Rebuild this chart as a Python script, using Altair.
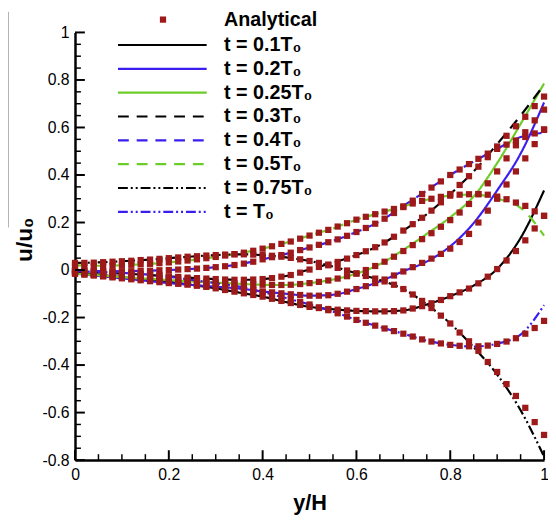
import altair as alt
import pandas as pd

# ---------------- data ----------------
series = ["t = 0.1T₀", "t = 0.2T₀", "t = 0.25T₀", "t = 0.3T₀",
          "t = 0.4T₀", "t = 0.5T₀", "t = 0.75T₀", "t = T₀"]

x_line = [round(0.05 * i, 2) for i in range(21)]
x_an = [round(0.02 * i, 2) for i in range(51)]

# numerical solutions (lines), sampled every 0.05 in y/H
line_01 = [-0.010, -0.020, -0.030, -0.040, -0.050, -0.063, -0.077, -0.095, -0.112, -0.135, -0.155,
           -0.165, -0.172, -0.174, -0.170, -0.145, -0.110, -0.065, 0.005, 0.135, 0.335]
line_02 = [-0.015, -0.025, -0.035, -0.045, -0.055, -0.063, -0.070, -0.078, -0.090, -0.100, -0.108,
           -0.104, -0.080, -0.048, -0.005, 0.036, 0.100, 0.198, 0.335, 0.490, 0.705]
line_025 = [-0.015, -0.022, -0.030, -0.036, -0.042, -0.048, -0.053, -0.058, -0.062, -0.063, -0.055,
            -0.040, -0.015, 0.025, 0.085, 0.152, 0.222, 0.310, 0.450, 0.615, 0.785]
line_03 = [-0.005, -0.010, -0.015, -0.020, -0.027, -0.033, -0.038, -0.041, -0.038, -0.025, 0.003,
           0.030, 0.063, 0.105, 0.166, 0.235, 0.320, 0.415, 0.530, 0.650, 0.780]
line_04 = [0.000, -0.004, -0.005, -0.003, 0.000, 0.005, 0.012, 0.024, 0.045, 0.068, 0.095,
           0.123, 0.160, 0.205, 0.270, 0.335, 0.400, 0.457, 0.510, 0.560, 0.578]
line_05 = [0.020, 0.018, 0.020, 0.025, 0.032, 0.042, 0.055, 0.070, 0.090, 0.115, 0.145,
           0.175, 0.212, 0.240, 0.268, 0.296, 0.313, 0.318, 0.300, 0.262, 0.145]
line_075 = [0.030, 0.032, 0.037, 0.043, 0.050, 0.057, 0.063, 0.066, 0.063, 0.053, 0.038,
            0.015, -0.014, -0.042, -0.080, -0.145, -0.225, -0.325, -0.440, -0.590, -0.785]
line_1 = [-0.005, -0.008, -0.012, -0.018, -0.028, -0.042, -0.055, -0.070, -0.093, -0.118, -0.145,
          -0.175, -0.210, -0.240, -0.268, -0.297, -0.315, -0.322, -0.310, -0.272, -0.148]

# analytical solutions (squares), sampled every 0.02 in y/H
an_01 = [-0.010, -0.014, -0.018, -0.022, -0.026, -0.030, -0.034, -0.038, -0.042, -0.046,
         -0.050, -0.055, -0.060, -0.066, -0.071, -0.077, -0.084, -0.091, -0.098, -0.105,
         -0.112, -0.121, -0.130, -0.139, -0.147, -0.155, -0.160, -0.164, -0.167, -0.170,
         -0.172, -0.173, -0.174, -0.174, -0.173, -0.170, -0.162, -0.152, -0.140, -0.126,
         -0.110, -0.094, -0.078, -0.056, -0.028, 0.004, 0.040, 0.080, 0.125, 0.175, 0.228]
an_02 = [-0.015, -0.019, -0.023, -0.027, -0.031, -0.035, -0.039, -0.043, -0.047, -0.051,
         -0.055, -0.058, -0.061, -0.064, -0.067, -0.070, -0.073, -0.076, -0.080, -0.085,
         -0.090, -0.094, -0.098, -0.102, -0.105, -0.108, -0.108, -0.106, -0.100, -0.091,
         -0.080, -0.068, -0.055, -0.040, -0.023, -0.006, 0.012, 0.030, 0.048, 0.068,
         0.090, 0.118, 0.152, 0.200, 0.250, 0.300, 0.360, 0.415, 0.470, 0.530, 0.592]
an_025 = [-0.015, -0.018, -0.021, -0.024, -0.027, -0.030, -0.032, -0.035, -0.037, -0.040,
          -0.042, -0.044, -0.047, -0.049, -0.051, -0.053, -0.055, -0.057, -0.059, -0.061,
          -0.062, -0.063, -0.063, -0.062, -0.059, -0.055, -0.050, -0.044, -0.036, -0.026,
          -0.015, 0.000, 0.017, 0.035, 0.056, 0.080, 0.105, 0.130, 0.155, 0.182,
          0.210, 0.242, 0.278, 0.320, 0.365, 0.415, 0.470, 0.525, 0.580, 0.630, 0.675]
an_03 = [-0.005, -0.007, -0.009, -0.011, -0.013, -0.015, -0.017, -0.019, -0.022, -0.024,
         -0.027, -0.029, -0.032, -0.034, -0.036, -0.038, -0.040, -0.041, -0.041, -0.040,
         -0.038, -0.034, -0.028, -0.021, -0.011, 0.002, 0.013, 0.023, 0.034, 0.048,
         0.063, 0.079, 0.096, 0.116, 0.140, 0.166, 0.193, 0.220, 0.250, 0.285,
         0.320, 0.358, 0.395, 0.435, 0.475, 0.520, 0.565, 0.605, 0.645, 0.690, 0.730]
an_04 = [0.000, -0.002, -0.003, -0.004, -0.005, -0.005, -0.005, -0.004, -0.003, -0.001,
         0.000, 0.002, 0.004, 0.006, 0.009, 0.012, 0.016, 0.021, 0.027, 0.035,
         0.045, 0.054, 0.063, 0.073, 0.084, 0.095, 0.106, 0.117, 0.129, 0.144,
         0.160, 0.177, 0.195, 0.216, 0.240, 0.265, 0.292, 0.320, 0.347, 0.373,
         0.400, 0.423, 0.446, 0.468, 0.490, 0.510, 0.528, 0.545, 0.560, 0.575, 0.590]
an_05 = [0.020, 0.019, 0.018, 0.018, 0.019, 0.020, 0.022, 0.024, 0.026, 0.029,
         0.032, 0.036, 0.040, 0.045, 0.050, 0.055, 0.061, 0.067, 0.073, 0.081,
         0.090, 0.100, 0.110, 0.120, 0.132, 0.145, 0.157, 0.169, 0.183, 0.197,
         0.212, 0.224, 0.235, 0.246, 0.257, 0.268, 0.280, 0.291, 0.300, 0.308,
         0.313, 0.317, 0.319, 0.319, 0.317, 0.309, 0.298, 0.284, 0.270, 0.247, 0.228]
an_075 = [0.030, 0.030, 0.031, 0.033, 0.035, 0.037, 0.039, 0.042, 0.044, 0.047,
          0.050, 0.053, 0.056, 0.058, 0.061, 0.063, 0.065, 0.066, 0.066, 0.065,
          0.063, 0.060, 0.056, 0.051, 0.045, 0.038, 0.030, 0.020, 0.009, -0.002,
          -0.014, -0.025, -0.036, -0.048, -0.062, -0.080, -0.103, -0.130, -0.160, -0.192,
          -0.225, -0.263, -0.300, -0.340, -0.387, -0.429, -0.480, -0.530, -0.580, -0.640, -0.694]
an_1 = [-0.005, -0.006, -0.007, -0.009, -0.010, -0.012, -0.014, -0.016, -0.019, -0.023,
        -0.028, -0.033, -0.039, -0.044, -0.050, -0.055, -0.061, -0.067, -0.074, -0.083,
        -0.093, -0.103, -0.113, -0.123, -0.134, -0.145, -0.157, -0.169, -0.182, -0.196,
        -0.210, -0.222, -0.234, -0.246, -0.257, -0.268, -0.280, -0.292, -0.301, -0.309,
        -0.315, -0.319, -0.321, -0.321, -0.318, -0.311, -0.301, -0.287, -0.268, -0.244, -0.214]

lines = [line_01, line_02, line_025, line_03, line_04, line_05, line_075, line_1]
analytic = [an_01, an_02, an_025, an_03, an_04, an_05, an_075, an_1]

x_major = [0, 0.2, 0.4, 0.6, 0.8, 1.0]
y_major = [-0.8, -0.6, -0.4, -0.2, 0, 0.2, 0.4, 0.6, 0.8, 1.0]
x_minor = [round(0.05 * i, 2) for i in range(21) if i % 4 != 0]
y_minor = [round(-0.8 + 0.05 * i, 2) for i in range(37) if i % 4 != 0]

legend_labels = ["Analytical"] + series

# ---------------- styles ----------------
BLACK = "#000000"
BLUE = "#3a1ef0"
GREEN = "#6ccc28"
RED = "#9e1a1a"
colors = [BLACK, BLUE, GREEN, BLACK, BLUE, GREEN, BLACK, BLUE]
SOLID = [1, 0]
DASH = [11, 8]
DDOT = [10, 3, 2, 3, 2, 3]
dashes = [SOLID, SOLID, SOLID, DASH, DASH, DASH, DDOT, DDOT]
FONT = "Liberation Sans"

W, H = 476, 434

line_df = pd.concat(
    [pd.DataFrame({"x": x_line, "u": v, "series": s}) for s, v in zip(series, lines)],
    ignore_index=True)
an_df = pd.concat(
    [pd.DataFrame({"x": x_an, "u": v, "series": s}) for s, v in zip(series, analytic)],
    ignore_index=True)
leg_df = pd.DataFrame({"row": list(range(len(legend_labels))), "label": legend_labels,
                       "series": ["Analytical"] + series})

xscale = alt.Scale(domain=[0, 1], nice=False, zero=False)
yscale = alt.Scale(domain=[-0.8, 1], nice=False, zero=False)
cscale = alt.Scale(domain=series, range=colors)
dscale = alt.Scale(domain=series, range=dashes)

xax = alt.Axis(values=x_major, labelExpr="toString(round(datum.value*10)/10)",
               ticks=False, grid=False, domainColor="black", domainWidth=2.5,
               labelFont=FONT, labelFontSize=16, labelColor="#000000", labelPadding=7,
               labelFlush=False, labelOverlap=False,
               title="y/H", titleFont=FONT, titleFontSize=22, titleFontWeight="bold",
               titleColor="black", titleY=43, titleBaseline="middle")
yax = alt.Axis(values=y_major, labelExpr="toString(round(datum.value*10)/10)",
               ticks=False, grid=False, domainColor="black", domainWidth=2.5,
               labelFont=FONT, labelFontSize=16, labelColor="#000000", labelPadding=6,
               labelFlush=False, labelOverlap=False,
               title="u/u₀", titleFont=FONT, titleFontSize=23, titleFontWeight="bold",
               titleColor="black", titleAngle=270, titleX=-51, titleY=210,
               titleAlign="center", titleBaseline="middle")

X = lambda f: alt.X(f, type="quantitative", scale=xscale, axis=xax)
Y = lambda f: alt.Y(f, type="quantitative", scale=yscale, axis=yax)

artifact = alt.Chart(pd.DataFrame({"a": [0]})).mark_rule(color="#9a9a9a", strokeWidth=1.5).encode(
    x=alt.value(-68), y=alt.value(-21), y2=alt.value(198))

line_layer = alt.Chart(line_df).mark_line(strokeWidth=2.2, interpolate="monotone").encode(
    x=X("x"), y=Y("u"),
    color=alt.Color("series:N", scale=cscale, legend=None),
    strokeDash=alt.StrokeDash("series:N", scale=dscale, legend=None),
    detail="series:N")

an_layer = alt.Chart(an_df).mark_square(size=40, color=RED, opacity=1).encode(
    x=X("x"), y=Y("u"))

ly = "datum.row == 0 ? 1.054 : 0.947 - 0.1003 * (datum.row - 1)"
leg_base = alt.Chart(leg_df).transform_calculate(ly=ly)

leg_lines = leg_base.transform_filter("datum.row > 0").mark_rule(strokeWidth=2.2).encode(
    x=alt.value(43.6), x2=alt.value(133.6), y=Y("ly"),
    color=alt.Color("series:N", scale=cscale, legend=None),
    strokeDash=alt.StrokeDash("series:N", scale=dscale, legend=None))

leg_sq = leg_base.transform_filter("datum.row == 0").mark_square(size=40, color=RED, opacity=1).encode(
    x=alt.value(89.3), y=Y("ly"))

leg_text = leg_base.mark_text(align="left", baseline="middle", font=FONT, fontSize=20,
                              fontWeight="bold", color="black").encode(
    x=alt.value(151.3), y=Y("ly"), text="label:N")

xt_major = alt.Chart(pd.DataFrame({"t": x_major})).mark_rule(color="black", strokeWidth=2).encode(
    x=X("t"), y=alt.value(H), y2=alt.value(H - 10))
xt_minor = alt.Chart(pd.DataFrame({"t": x_minor})).mark_rule(color="black", strokeWidth=1.5).encode(
    x=X("t"), y=alt.value(H), y2=alt.value(H - 6))
yt_major = alt.Chart(pd.DataFrame({"t": y_major})).mark_rule(color="black", strokeWidth=2).encode(
    y=Y("t"), x=alt.value(0), x2=alt.value(10))
yt_minor = alt.Chart(pd.DataFrame({"t": y_minor})).mark_rule(color="black", strokeWidth=1.5).encode(
    y=Y("t"), x=alt.value(0), x2=alt.value(6))

chart = alt.layer(
    artifact, line_layer, an_layer, leg_lines, leg_sq, leg_text,
    xt_major, xt_minor, yt_major, yt_minor
).properties(
    width=W, height=H,
    padding={"left": 68, "top": 21, "right": 4, "bottom": 58},
    autosize=alt.AutoSizeParams(type="none"),
).configure_view(stroke=None)

chart.save("out.html", embed_options={"renderer": "svg", "actions": False})
